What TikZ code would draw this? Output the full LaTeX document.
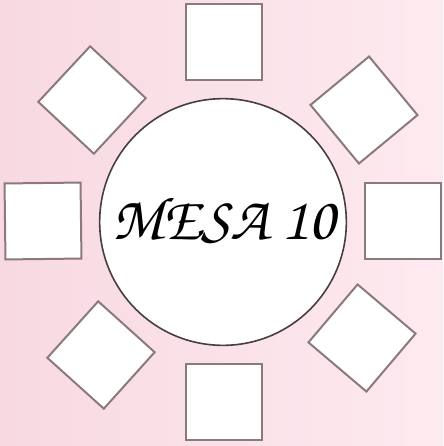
\documentclass[tikz,border=0pt]{standalone}
\usepackage[T1,TU]{fontenc}
\usepackage{tikz}
\usepackage{xcolor}
\newcommand{\msscript}{\fontencoding{T1}\fontfamily{pzc}\fontseries{mb}\fontshape{it}\selectfont}
\definecolor{msrose}{RGB}{248,217,226}
\definecolor{mslight}{RGB}{253,234,239}
\definecolor{msedge}{RGB}{140,121,126}
\definecolor{msdark}{RGB}{72,62,66}
\tikzset{
  mschair/.style={draw=msedge, line width=1.5pt, fill=white, minimum size=57pt, inner sep=0pt},
  mstable/.style={draw=msdark, line width=1.2pt, circle, fill=white, minimum size=185pt, inner sep=0pt}
}

\begin{document}
\begin{tikzpicture}[x=0.75pt, y=-0.75pt]
  \shade[left color=msrose, right color=mslight] (0,0) rectangle (443,446);
  \useasboundingbox (0,0) rectangle (443,446);

  \node[mstable] (mesa) at (223,222) {};
  \node (label) at (224,220) {\msscript\fontsize{46}{46}\selectfont MESA 10};

  \node[mschair] (n) at (224,42) {};
  \node[mschair] (s) at (224,402) {};
  \node[mschair, rotate=0.7] (w) at (43,221) {};
  \node[mschair] (e) at (403,221) {};
  \node[mschair, rotate=47] (nw) at (92,100) {};
  \node[mschair, rotate=39.6] (ne) at (364,110) {};
  \node[mschair, rotate=48] (sw) at (101,355) {};
  \node[mschair, rotate=49.7] (se) at (362,338) {};
\end{tikzpicture}
\end{document}
